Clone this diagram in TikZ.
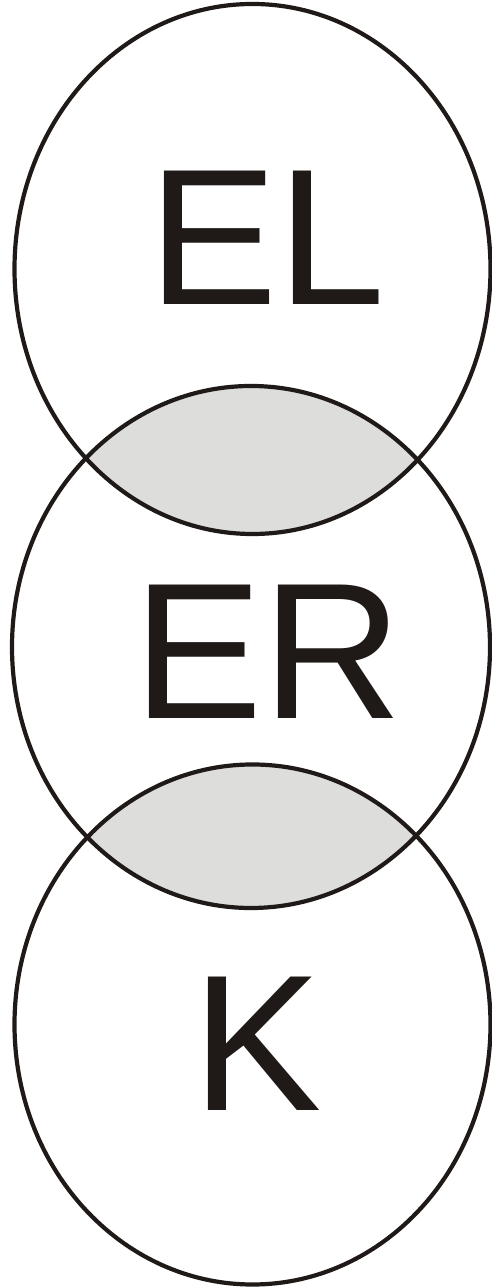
\documentclass[tikz,border=0pt]{standalone}
\usepackage{fontspec}
\setmainfont{Liberation Sans}
\usetikzlibrary{positioning}

\definecolor{inkline}{HTML}{1F1A17}
\definecolor{lensgray}{HTML}{DDDDDC}

\begin{document}
\begin{tikzpicture}[
    x=1pt, y=1pt,
    ring/.style={draw=inkline, line width=4.2pt},
    lens/.style={fill=lensgray},
    letters/.style={inner sep=0pt, text=inkline, font=\fontsize{194}{194}\selectfont},
]

\useasboundingbox (0,0) rectangle (492,1288);

% centres of the three rings
\coordinate (top) at (252.5,1019);
\coordinate (mid) at (251,641);
\coordinate (bot) at (252.5,263.5);

% Shaded overlaps
\begin{scope}
    \clip (top) ellipse [x radius=238, y radius=265];
    \fill[lens] (mid) ellipse [x radius=239, y radius=261];
\end{scope}
\begin{scope}
    \clip (mid) ellipse [x radius=239, y radius=261];
    \fill[lens] (bot) ellipse [x radius=238, y radius=260];
\end{scope}

% Rings
\draw[ring] (top) ellipse [x radius=238, y radius=265];
\draw[ring] (mid) ellipse [x radius=239, y radius=261];
\draw[ring] (bot) ellipse [x radius=238, y radius=260];

% Labels
\node[letters] (el) at (267,1050) {EL};
\node[letters] (er) at (268,636) {ER};
\node[letters] (k) at (257,244) {K};

\end{tikzpicture}
\end{document}
